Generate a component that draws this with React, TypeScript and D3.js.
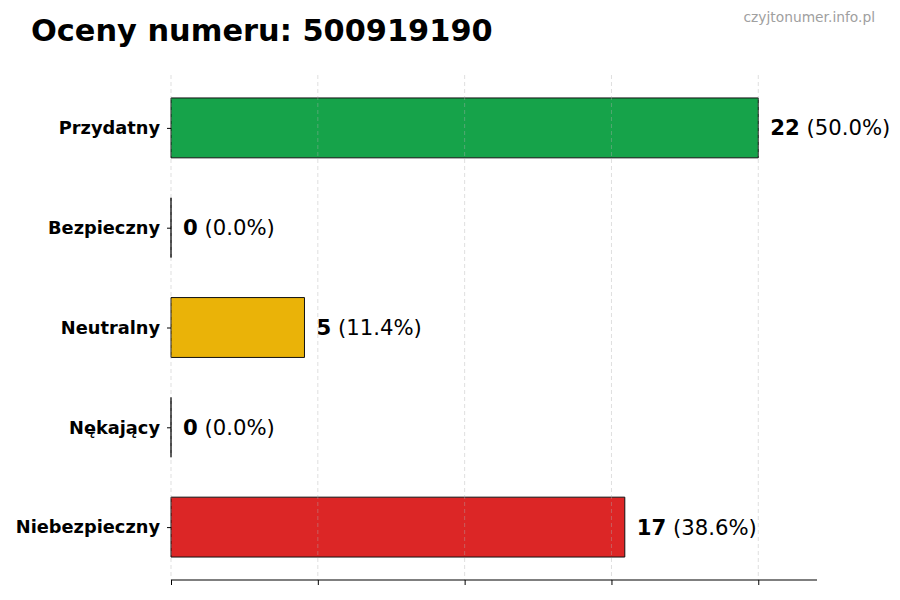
import React, { ReactElement, useEffect, useRef } from "react";
import * as d3 from "d3";

const categories = ["Przydatny", "Bezpieczny", "Neutralny", "Nękający", "Niebezpieczny"];
const counts = [22, 0, 5, 0, 17];
const colors = ["#16a34a", "#9ca3af", "#eab308", "#f97316", "#dc2626"];
const xTicks = [0, 5.5, 11, 16.5, 22];

const title = "Oceny numeru: 500919190";
const watermark = "czyjtonumer.info.pl";

function App(): ReactElement {
  const ref = useRef<SVGSVGElement>(null);

  useEffect(() => {
    document.body.style.margin = "0";
    drawChart();
  });

  const drawChart = () => {
    const svg = d3.select(ref.current);
    svg.selectAll("*").remove();
    const font = "DejaVu Sans, sans-serif";
    const total = d3.sum(counts);
    const left = 171; // plot left
    const right = 817; // plot right
    const top = 75;
    const bottom = 580;

    const x = d3.scaleLinear().domain([0, 22 * 1.1]).range([left, right]);
    const y = d3.scaleLinear().domain([-0.53, 4.53]).range([top, bottom]);
    const barH = y(0.3) - y(-0.3);

    // bars (paths so zero-width bars still show their edge)
    svg
      .selectAll(".bar")
      .data(counts)
      .enter()
      .append("path")
      .attr("class", "bar")
      .attr("d", (d, i) => {
        const y0 = y(i) - barH / 2;
        const w = x(d) - x(0);
        return `M${x(0)},${y0}h${w}v${barH}h${-w}Z`;
      })
      .attr("fill", (d, i) => colors[i])
      .attr("stroke", "#111")
      .attr("stroke-width", 1);

    // grid above bars
    svg
      .append("g")
      .selectAll("line")
      .data(xTicks)
      .enter()
      .append("line")
      .attr("x1", (d) => x(d))
      .attr("x2", (d) => x(d))
      .attr("y1", top)
      .attr("y2", bottom)
      .attr("stroke", "#b0b0b0")
      .attr("stroke-opacity", 0.5)
      .attr("stroke-dasharray", "4,3")
      .attr("stroke-width", 0.8);

    // bottom axis, no labels
    const xAxis = svg
      .append("g")
      .attr("transform", `translate(0,${bottom})`)
      .call(d3.axisBottom(x).tickValues(xTicks).tickSize(5).tickFormat(() => ""));
    xAxis.select(".domain").attr("d", `M${left},0H${right}`).attr("stroke", "#000").attr("stroke-width", 1.2);
    xAxis.selectAll(".tick line").attr("stroke", "#000").attr("stroke-width", 1);

    // left labels
    const yAxis = svg
      .append("g")
      .attr("transform", `translate(${left},0)`)
      .call(
        d3
          .axisLeft(y)
          .tickValues(d3.range(categories.length))
          .tickSize(4)
          .tickPadding(7)
          .tickFormat((d) => categories[d as number])
      );
    yAxis.select(".domain").remove();
    yAxis.selectAll(".tick line").attr("stroke", "#000");
    yAxis
      .selectAll(".tick text")
      .attr("font-family", font)
      .attr("font-size", 17.8)
      .attr("font-weight", "bold")
      .attr("fill", "#000");

    // value labels
    const labels = svg
      .selectAll(".val")
      .data(counts)
      .enter()
      .append("text")
      .attr("class", "val")
      .attr("x", (d) => x(d) + 12)
      .attr("y", (d, i) => y(i) + 7.5)
      .attr("font-family", font)
      .attr("font-size", 21.2)
      .attr("fill", "#000");
    labels
      .append("tspan")
      .attr("font-weight", "bold")
      .text((d) => `${d}`);
    labels.append("tspan").text((d) => ` (${((d / total) * 100).toFixed(1)}%)`);

    svg
      .append("text")
      .attr("x", 31)
      .attr("y", 41)
      .attr("font-family", font)
      .attr("font-size", 30.4)
      .attr("font-weight", "bold")
      .attr("fill", "#000")
      .text(title);

    svg
      .append("text")
      .attr("x", 875)
      .attr("y", 22)
      .attr("text-anchor", "end")
      .attr("font-family", font)
      .attr("font-size", 13.8)
      .attr("fill", "#a0a0a0")
      .text(watermark);
  };

  return (
    <div>
      <svg ref={ref} width={900} height={600} style={{ display: "block" }}></svg>
    </div>
  );
}

export default App;
